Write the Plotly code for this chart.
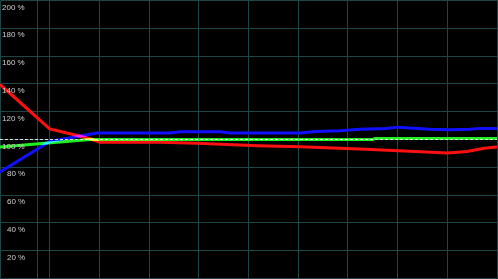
import plotly.graph_objects as go

# ---- data (x in grid units, y in percent) ----
red_x = [0, 1.0, 1.41, 1.61, 1.81, 2.01, 3.22, 3.96, 4.35, 4.70, 5.19, 6.04, 6.84, 7.36, 7.91, 8.51, 9.01, 9.40, 9.56, 9.74, 10.0]
red_y = [139.6, 107.6, 104.1, 102.4, 100.5, 98.1, 98.1, 97.3, 96.6, 95.9, 95.5, 94.8, 93.9, 93.0, 92.1, 90.9, 90.3, 91.4, 92.6, 93.7, 94.6]

blue_x = [0, 1.0, 1.95, 3.42, 3.62, 4.43, 4.63, 6.04, 6.34, 6.84, 7.24, 7.75, 8.01, 8.25, 8.65, 9.05, 9.46, 9.66, 10.0]
blue_y = [76.6, 98.6, 104.7, 104.7, 105.6, 105.6, 104.7, 104.7, 105.8, 106.3, 107.3, 108.0, 108.9, 108.3, 107.4, 107.1, 107.3, 108.0, 108.0]

green_x = [0, 1.0, 1.81, 7.50, 7.54, 10.0]
green_y = [94.6, 97.8, 100.0, 100.0, 100.7, 100.7]

baseline = 100
x_span = [0, 10]
y_ticks = [200, 180, 160, 140, 120, 100, 80, 60, 40, 20]
y_tick_labels = ["200 %", "180 %", "160 %", "140 %", "120 %", "100 %", "80 %", "60 %", "40 %", "20 %"]
x_grid = [0, 0.75, 1, 2, 3, 4, 5, 6, 7, 8, 9, 10]

grid = "#1d4646"

fig = go.Figure()
for xs, ys, col in [(green_x, green_y, "#20f020"), (blue_x, blue_y, "#1010ff"), (red_x, red_y, "#ff1010")]:
    fig.add_trace(go.Scatter(x=xs, y=ys, mode="lines", line=dict(color=col, width=3), showlegend=False, hoverinfo="skip"))

# 100 % reference line, drawn last on top
fig.add_trace(go.Scatter(x=x_span, y=[baseline, baseline], mode="lines",
                         line=dict(color="#e0e0e0", width=1, dash="3px,2px"), showlegend=False, hoverinfo="skip"))

# outer frame
fig.add_shape(type="rect", xref="paper", yref="paper", x0=0.5 / 498, x1=497.5 / 498, y0=0.5 / 279, y1=1 - 0.5 / 279,
              line=dict(color=grid, width=1), layer="below")

fig.update_xaxes(range=[0, 10.02], tickvals=x_grid, showticklabels=False, showgrid=True, gridcolor=grid, gridwidth=1,
                 zeroline=False, showline=False, ticks="")
fig.update_yaxes(range=[-0.36, 200.36], tickvals=[0] + y_ticks, showticklabels=False, showgrid=True, gridcolor=grid, gridwidth=1,
                 zeroline=False, showline=False, ticks="")

for v, t in zip(y_ticks, y_tick_labels):
    fig.add_annotation(x=26 / 498, xref="paper", y=v, yref="y", text=t, showarrow=False, xanchor="right", yanchor="top",
                       yshift=-1, borderpad=0, font=dict(family="Liberation Sans, Arial", size=8, color="#d0d0d0"))

fig.update_layout(width=498, height=279, margin=dict(l=0, r=0, t=0, b=0), paper_bgcolor="black", plot_bgcolor="black")

post = """
var s=document.createElement('style');
s.innerHTML='.scatterlayer .trace:nth-child(-n+3) path.js-line{mix-blend-mode:screen;}';
document.head.appendChild(s);
"""
fig.write_html("out.html", post_script=post)
